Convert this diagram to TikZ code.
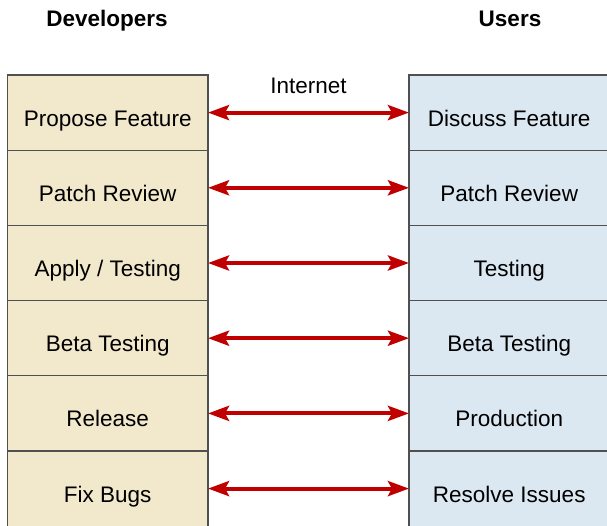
\documentclass[tikz,border=0pt]{standalone}
\usepackage{fontspec}
\setmainfont{Liberation Sans}
\usetikzlibrary{positioning,arrows.meta}

\definecolor{devfill}{RGB}{242,232,204}
\definecolor{usrfill}{RGB}{219,232,242}
\definecolor{rowline}{RGB}{80,80,80}
\definecolor{linkred}{RGB}{192,0,0}

\begin{document}
\begin{tikzpicture}[x=1pt, y=-1pt, font=\fontsize{22.5}{27}\selectfont,
    devrow/.style={draw=rowline, fill=devfill, line width=1.3pt,
        minimum width=200.5pt, minimum height=75.2pt,
        inner sep=0pt, outer sep=0pt, text height=31pt, text depth=4pt},
    usrrow/.style={devrow, fill=usrfill},
    link/.style={draw=linkred, line width=4pt,
        {Stealth[length=21pt, width=15pt, inset=4pt]}-{Stealth[length=21pt, width=15pt, inset=4pt]}}]
    \useasboundingbox (0,0) rectangle (607,526);

    % Column headings
    \node[anchor=base, font=\fontsize{22.5}{27}\selectfont\bfseries] (devhead) at (107,26.5) {Developers};
    \node[anchor=base, font=\fontsize{22.5}{27}\selectfont\bfseries] (usrhead) at (510,26.5) {Users};

    % Developer side
    \node[devrow] (dev1) at (107.75,112.6) {Propose Feature};
    \node[devrow, below=0pt of dev1] (dev2) {Patch Review};
    \node[devrow, below=0pt of dev2] (dev3) {Apply / Testing};
    \node[devrow, below=0pt of dev3] (dev4) {Beta Testing};
    \node[devrow, below=0pt of dev4] (dev5) {Release};
    \node[devrow, below=0pt of dev5] (dev6) {Fix Bugs};

    % User side
    \node[usrrow] (usr1) at (509.25,112.6) {Discuss Feature};
    \node[usrrow, below=0pt of usr1] (usr2) {Patch Review};
    \node[usrrow, below=0pt of usr2] (usr3) {Testing};
    \node[usrrow, below=0pt of usr3] (usr4) {Beta Testing};
    \node[usrrow, below=0pt of usr4] (usr5) {Production};
    \node[usrrow, below=0pt of usr5] (usr6) {Resolve Issues};

    % Links over the internet
    \node[anchor=base] (net) at (308.5,93.5) {Internet};
    \draw[link] (dev1.east) -- (usr1.west);
    \draw[link] (dev2.east) -- (usr2.west);
    \draw[link] (dev3.east) -- (usr3.west);
    \draw[link] (dev4.east) -- (usr4.west);
    \draw[link] (dev5.east) -- (usr5.west);
    \draw[link] (dev6.east) -- (usr6.west);
\end{tikzpicture}
\end{document}
